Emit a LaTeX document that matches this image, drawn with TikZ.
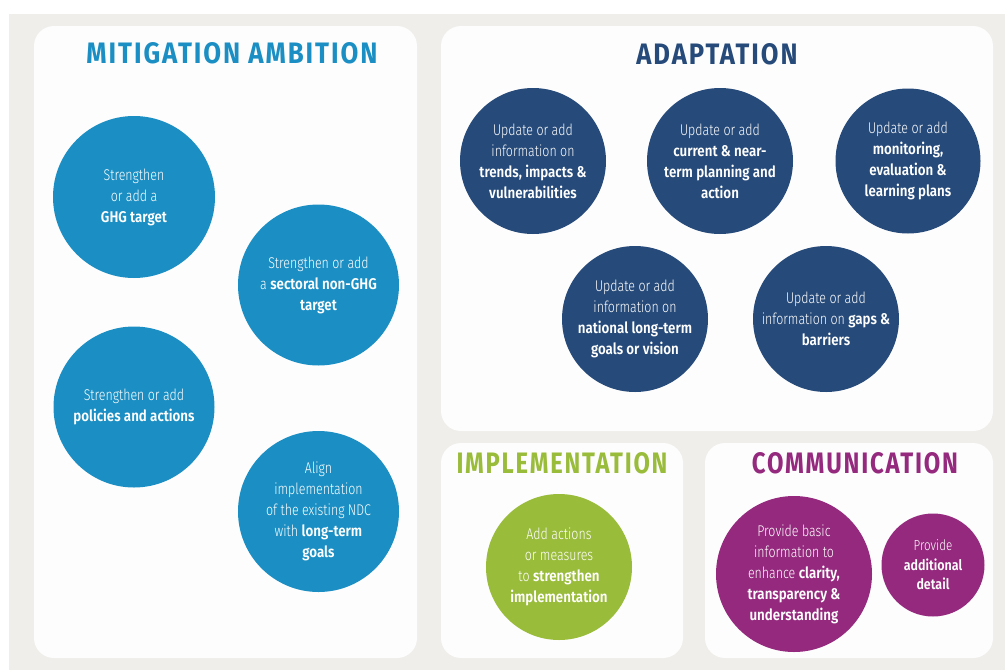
\documentclass[tikz,border=0pt]{standalone}
\usepackage{fontspec}
\setmainfont{Fira Sans}[FakeStretch=0.8, UprightFont=* Light, BoldFont=* SemiBold, BoldFeatures={FakeStretch=0.86}]
\newfontfamily\headfont{Fira Sans}[FakeStretch=0.8, LetterSpace=6]
\usepackage{graphicx}
\definecolor{bggray}{HTML}{EFEEEA}
\definecolor{panelw}{HTML}{FDFDFD}
\definecolor{mblue}{HTML}{1B8FC3}
\definecolor{anavy}{HTML}{264A79}
\definecolor{igreen}{HTML}{9ABC3B}
\definecolor{cpurple}{HTML}{94297E}
\newcommand{\headtxt}[2]{\resizebox{#1pt}{21pt}{\headfont\bfseries #2}}
\begin{document}
\begin{tikzpicture}[x=1pt,y=-1pt,
  panel/.style={fill=panelw, rounded corners=20pt},
  heading/.style={inner sep=0pt},
  bub/.style={circle, inner sep=0pt, text=white, align=center, font=\fontsize{15.5}{21}\selectfont},
  mcirc/.style={bub, fill=mblue},
  acirc/.style={bub, fill=anavy},
  icirc/.style={bub, fill=igreen},
  ccirc/.style={bub, fill=cpurple}]
\useasboundingbox (0,0) rectangle (1005,670);
\fill[white] (0,0) rectangle (1005,670);
\fill[bggray] (9,14) rectangle (1005,670);
% panels
\path[panel] (34,26) rectangle (417,658);
\path[panel] (441,26) rectangle (993,431);
\path[panel] (441,443) rectangle (683,658);
\path[panel] (705,443) rectangle (993,658);
% headings
\node[heading, text=mblue] (hm) at (232,53.5) {\headtxt{291}{MITIGATION AMBITION}};
\node[heading, text=anavy] (ha) at (717,54) {\headtxt{161}{ADAPTATION}};
\node[heading, text=igreen] (hi) at (562,463) {\headtxt{211}{IMPLEMENTATION}};
\node[heading, text=cpurple] (hc) at (855,463) {\headtxt{206}{COMMUNICATION}};
% mitigation
\node[mcirc, minimum size=162pt] (m1) at (134,197) {Strengthen\\or add a\\\textbf{GHG target}};
\node[mcirc, minimum size=161pt] (m2) at (318.5,285) {Strengthen or add\\a \textbf{sectoral non-GHG}\\\textbf{target}};
\node[mcirc, minimum size=161pt] (m3) at (134,407) {Strengthen or add\\\textbf{policies and actions}};
\node[mcirc, minimum size=161pt] (m4) at (318.5,511.5) {Align\\implementation\\of the existing NDC\\with \textbf{long-term}\\\textbf{goals}};
% adaptation
\node[acirc, minimum size=146pt] (a1) at (533,161) {Update or add\\information on\\\textbf{trends, impacts \&}\\\textbf{vulnerabilities}};
\node[acirc, minimum size=146pt] (a2) at (720,161) {Update or add\\\textbf{current \& near-}\\\textbf{term planning and}\\\textbf{action}};
\node[acirc, minimum size=145pt] (a3) at (908,161) {Update or add\\\textbf{monitoring,}\\\textbf{evaluation \&}\\\textbf{learning plans}};
\node[acirc, minimum size=146pt] (a4) at (635,319) {Update or add\\information on\\\textbf{national long-term}\\\textbf{goals or vision}};
\node[acirc, minimum size=146pt] (a5) at (826,319) {Update or add\\information on \textbf{gaps \&}\\\textbf{barriers}};
% implementation
\node[icirc, minimum size=146pt] (i1) at (559,567) {Add actions\\or measures\\to \textbf{strengthen}\\\textbf{implementation}};
% communication
\node[ccirc, minimum size=156pt] (c1) at (794,574) {Provide basic\\information to\\enhance \textbf{clarity,}\\\textbf{transparency \&}\\\textbf{understanding}};
\node[ccirc, minimum size=103pt, font=\fontsize{14.5}{19.5}\selectfont] (c2) at (933,565) {Provide\\\textbf{additional}\\\textbf{detail}};
\end{tikzpicture}
\end{document}
